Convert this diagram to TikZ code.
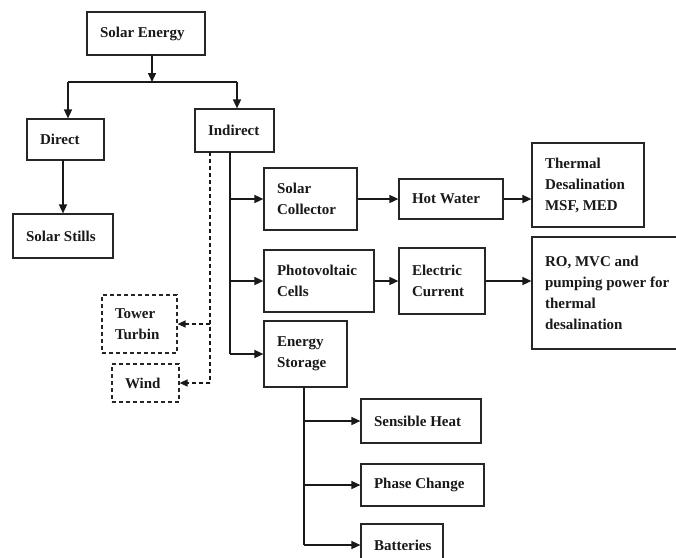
\documentclass[tikz,border=0pt]{standalone}
\usepackage{fontspec}
\setmainfont{Liberation Serif}[BoldFont={Liberation Serif Bold}]
\newfontfamily\boxfont{Liberation Serif Bold}
\usetikzlibrary{arrows.meta}
\tikzset{
  box/.style={draw=black!85, line width=1.2pt, align=flush left, inner xsep=13pt, inner ysep=0pt,
    font=\boxfont\fontsize{15}{21}\selectfont, text=black!90},
  dbox/.style={box, dash pattern=on 4pt off 3pt},
  arr/.style={line width=1.5pt, draw=black!90, -{Triangle[length=9pt,width=8pt]}},
  line/.style={line width=1.5pt, draw=black!90},
  darr/.style={line width=1.3pt, draw=black!90, dash pattern=on 4pt off 3pt, -{Triangle[length=8pt,width=7pt]}},
  dline/.style={line width=1.3pt, draw=black!90, dash pattern=on 4pt off 3pt},
}
\begin{document}
\begin{tikzpicture}[x=1pt,y=-1pt]
\clip (0,0) rectangle (676,557);
\fill[white] (0,0) rectangle (676,557);
% nodes
\node[box, text width=92pt, minimum height=43pt] (se) at (146,33.5) {Solar Energy};
\node[box, text width=51pt, minimum height=41pt] (dir) at (65.5,139.5) {Direct};
\node[box, text width=53pt, minimum height=43pt] (ind) at (234.5,130.5) {Indirect};
\node[box, text width=74pt, minimum height=44pt] (ss) at (63,236) {Solar Stills};
\node[box, text width=67pt, minimum height=62pt] (sc) at (310.5,199) {Solar\\Collector};
\node[box, text width=78pt, minimum height=40pt] (hw) at (451,199) {Hot Water};
\node[box, text width=86pt, minimum height=84pt] (td) at (588,185) {Thermal\\Desalination\\MSF, MED};
\node[box, text width=84pt, minimum height=62pt] (pv) at (319,281) {Photovoltaic\\Cells};
\node[box, text width=60pt, minimum height=66pt] (ec) at (442,281) {Electric\\Current};
\node[box, text width=134pt, minimum height=112pt] (ro) at (612,293) {RO, MVC and\\pumping power for\\thermal\\desalination};
\node[box, text width=57pt, minimum height=66pt] (es) at (305.5,354) {Energy\\Storage};
\node[dbox, text width=49pt, minimum height=58pt] (tt) at (139.5,324) {Tower\\Turbin};
\node[dbox, text width=41pt, minimum height=38pt] (wi) at (145.5,383) {Wind};
\node[box, text width=94pt, minimum height=44pt] (sh) at (421,421) {Sensible Heat};
\node[box, text width=97pt, minimum height=42pt] (pc) at (422.5,485) {Phase Change};
\node[box, text width=56pt, minimum height=42pt] (ba) at (402,545) {Batteries};
% coordinates
\coordinate (sebot) at (152,55);
\coordinate (split) at (152,82);
\coordinate (lsplit) at (68,82);
\coordinate (rsplit) at (237,82);
\coordinate (dbot) at (63,160);
\coordinate (itrunk) at (230,152);
\coordinate (dtrunk) at (210,152);
\coordinate (etrunk) at (304,387);
% connectors
\draw[arr] (sebot) -- (split);
\draw[line] (lsplit) -- (rsplit);
\draw[arr] (lsplit) -- (lsplit |- dir.north);
\draw[arr] (rsplit) -- (rsplit |- ind.north);
\draw[arr] (dbot) -- (dbot |- ss.north);
\draw[line] (itrunk) -- (itrunk |- es.west);
\draw[arr] (itrunk |- sc.west) -- (sc.west);
\draw[arr] (itrunk |- pv.west) -- (pv.west);
\draw[arr] (itrunk |- es.west) -- (es.west);
\draw[dline] (dtrunk) -- (dtrunk |- wi.east);
\draw[darr] (dtrunk |- tt.east) -- (tt.east);
\draw[darr] (dtrunk |- wi.east) -- (wi.east);
\draw[arr] (sc.east |- hw.west) -- (hw.west);
\draw[arr] (hw.east) -- (hw.east -| td.west);
\draw[arr] (pv.east) -- (pv.east -| ec.west);
\draw[arr] (ec.east) -- (ec.east -| ro.west);
\draw[line] (etrunk) -- (etrunk |- ba.west);
\draw[arr] (etrunk |- sh.west) -- (sh.west);
\draw[arr] (etrunk |- pc.west) -- (pc.west);
\draw[arr] (etrunk |- ba.west) -- (ba.west);
\end{tikzpicture}
\end{document}
